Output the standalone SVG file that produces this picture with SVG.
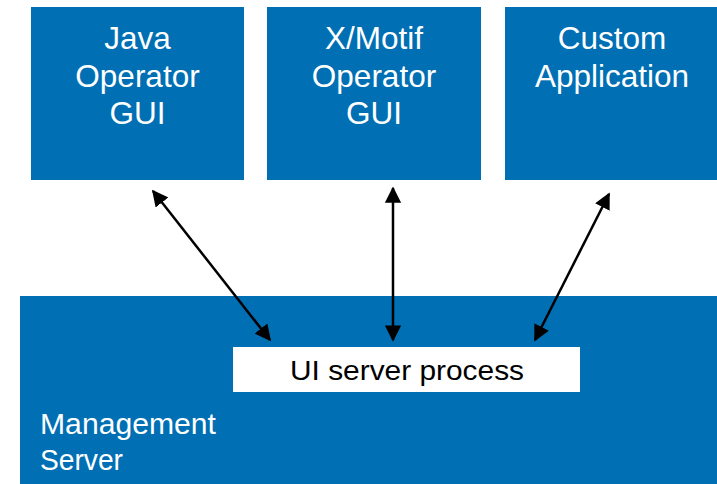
<svg xmlns="http://www.w3.org/2000/svg" width="717" height="484" viewBox="0 0 717 484">
<style>
.box{fill:#006fb3}
.t{font-family:"Liberation Sans",Arial,sans-serif;font-size:31.5px;fill:#fff;text-anchor:middle}
.tn{font-family:"Liberation Sans",Arial,sans-serif;font-size:30px;fill:#fff}
.c{stroke:#000;stroke-width:2.5;fill:none;marker-start:url(#ah);marker-end:url(#ah)}
</style>
<defs>
<marker id="ah" viewBox="0 0 10 10" refX="9" refY="5" markerWidth="6.5" markerHeight="6.5" markerUnits="strokeWidth" orient="auto-start-reverse">
<path d="M0,0 L10,5 L0,10 z" fill="#000"/>
</marker>
</defs>
<rect width="717" height="484" fill="#fff"/>
<g id="java">
<rect class="box" x="31" y="7" width="213" height="173"/>
<text class="t" x="137.5" y="49">Java</text>
<text class="t" x="137.5" y="87">Operator</text>
<text class="t" x="137.5" y="124">GUI</text>
</g>
<g id="motif">
<rect class="box" x="267" y="7" width="214" height="173"/>
<text class="t" x="374" y="49">X/Motif</text>
<text class="t" x="374" y="87">Operator</text>
<text class="t" x="374" y="124">GUI</text>
</g>
<g id="custom">
<rect class="box" x="505" y="7" width="212" height="173"/>
<text class="t" x="612" y="49">Custom</text>
<text class="t" x="612" y="87">Application</text>
</g>
<g id="mgmt">
<rect class="box" x="20" y="296" width="697" height="188"/>
<text class="tn" x="40" y="434" textLength="176" lengthAdjust="spacingAndGlyphs">Management</text>
<text class="tn" x="40" y="470" textLength="83" lengthAdjust="spacingAndGlyphs">Server</text>
</g>
<g id="ui">
<rect x="233" y="347" width="347" height="45" fill="#fff"/>
<text x="290" y="380" font-family="Liberation Sans, Arial, sans-serif" font-size="27" fill="#000" textLength="234" lengthAdjust="spacingAndGlyphs">UI server process</text>
</g>
<g id="connectors">
<line class="c" x1="153" y1="191" x2="270" y2="340"/>
<line class="c" x1="393" y1="188" x2="393" y2="340"/>
<line class="c" x1="609" y1="194" x2="535" y2="340"/>
</g>
</svg>
